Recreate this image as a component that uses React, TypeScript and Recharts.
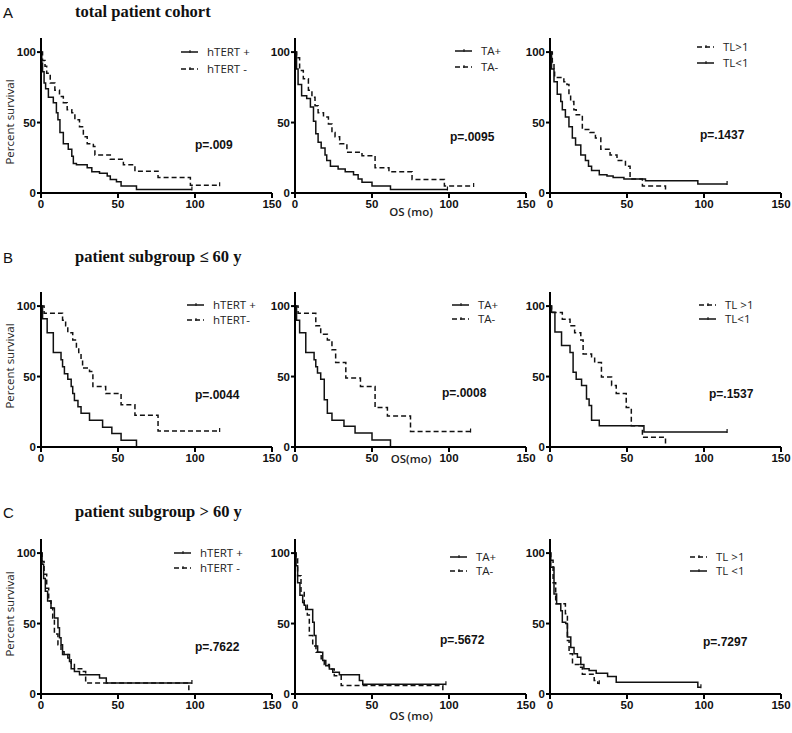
import React from 'react';
import { LineChart, Line, XAxis, YAxis } from 'recharts';

type Pt = [number, number];

// [months, percent survival] step points

// A: total patient cohort
const aHtertPos: Pt[] = [[0, 100], [0.5, 92], [1, 86], [2, 78], [3, 74], [4.8, 68], [8, 64], [10, 57], [11, 52], [12.3, 43], [14.5, 35], [17.7, 31], [20, 26], [21, 21], [23, 20], [30, 18], [33, 15], [38, 14], [43, 12], [45, 9.5], [49, 8], [52, 5], [62, 2.4], [98, 2.4]];
const aHtertNeg: Pt[] = [[0, 100], [1, 94], [2.6, 90], [3.7, 85], [6, 78], [9, 73], [12, 68.5], [14.5, 64], [17, 59], [20, 57], [22, 52], [25, 47], [27.5, 40], [30, 35], [34, 33], [35, 27], [45, 24], [53.5, 20], [61, 15.5], [76, 11], [97, 5.5], [116, 5.5]];
const aTaPos: Pt[] = [[0, 100], [1, 88], [2, 77], [4.3, 69], [7.6, 67], [10, 61], [12, 51], [13.5, 42], [15, 36], [17, 32], [19.5, 27], [20.6, 23], [23, 19], [28, 17], [32.6, 15], [38, 13], [41, 10], [43.5, 7.6], [50, 5], [62, 2.4], [99, 2.4]];
const aTaNeg: Pt[] = [[0, 100], [1, 96], [3, 87], [5.4, 81], [8.7, 73], [11, 68], [13, 62], [15, 57], [18.5, 54], [21.7, 49], [24, 43], [26, 40], [29, 35], [33.7, 29], [43.5, 26.5], [52, 18], [61, 15], [76, 9.5], [97, 5], [116, 5]];
const aTlHigh: Pt[] = [[0, 100], [1.5, 93], [2.6, 88], [3, 82], [9, 79], [11, 77], [12.3, 70], [13.4, 65], [15.5, 59], [17, 55.5], [21, 45], [26, 43], [29.5, 39], [33, 31], [39, 27], [43.5, 23], [49, 19], [52, 10], [60, 5], [75, 0]];
const aTlLow: Pt[] = [[0, 100], [1, 88], [2.6, 79], [4.7, 70], [7, 65], [8, 59], [10, 54], [12.3, 47], [14.5, 39], [16.6, 34], [20, 27], [23, 23], [25, 19], [27, 16], [32, 13], [37, 12], [41, 11], [48, 10], [62, 8.7], [96, 6.3], [115, 6.3]];

// B: patient subgroup <= 60 y
const bHtertPos: Pt[] = [[0, 100], [1, 91], [4, 81], [8, 67], [13, 62], [14, 57], [15.2, 52], [17.4, 48], [19.6, 43], [20.6, 38], [21.7, 33], [24, 28.6], [26, 24], [31.5, 19], [40, 14], [46, 9.5], [52, 4.8], [62, 0]];
const bHtertNeg: Pt[] = [[0, 100], [2, 95], [14, 90], [16, 86], [17.4, 81], [20.6, 76], [23, 71], [24.5, 67], [26, 62], [27, 56], [31.5, 53.5], [33.7, 43], [42, 38], [52, 30], [61, 22.6], [76, 11.3], [116, 11.3]];
const bTaPos: Pt[] = [[0, 100], [1, 90], [3, 81], [7, 67], [12.4, 62], [13.5, 57], [14.6, 52.6], [16.7, 48], [19, 33.6], [21, 24], [24, 19], [31.8, 14.7], [39, 10], [50, 5], [62, 0]];
const bTaNeg: Pt[] = [[0, 100], [2, 95], [13.5, 86], [16.7, 80], [21, 76], [24, 69], [26.4, 60], [33, 49], [42.5, 43], [52, 28], [60, 22], [75, 11], [114, 11]];
const bTlHigh: Pt[] = [[0, 100], [1, 95.5], [8, 90.6], [13, 86], [16, 81], [20, 76], [21.5, 66], [27, 64], [29, 60], [33.4, 49.6], [40, 43.7], [43, 38], [49.5, 28], [52.8, 15], [60, 7], [75, 0]];
const bTlLow: Pt[] = [[0, 100], [1, 95.7], [3.2, 81.6], [7.5, 72], [13, 67], [15, 53], [17, 48], [20.5, 43.7], [23.7, 34], [25.4, 29.5], [27, 19], [32, 15], [61, 10.6], [115, 10.6]];

// C: patient subgroup > 60 y
const cHtertPos: Pt[] = [[0, 100], [0.7, 92], [1.7, 82], [2.8, 73], [4.3, 66], [6.5, 61], [8.7, 54], [11, 47], [12, 40], [13, 35], [14, 28], [18.5, 23], [19.6, 18], [21.7, 16], [25, 13.7], [38, 11.3], [42.4, 7.8], [98, 7.8]];
const cHtertNeg: Pt[] = [[0, 100], [0.7, 94], [2, 85], [3.7, 75], [5, 66], [6.5, 61], [7.6, 54], [8.7, 42.5], [11, 35], [13, 30], [15, 28], [17.4, 25.5], [19.6, 21], [21.7, 18], [27, 16], [29, 7.8], [96, 0]];
const cTaPos: Pt[] = [[0, 100], [0.7, 91], [1.7, 79], [3.2, 70], [5, 65], [6, 63], [7, 60], [11.5, 51], [12.5, 41.5], [13.6, 34], [14.7, 29.6], [18, 23.7], [20, 20], [22.3, 17.8], [24.5, 15.4], [28.8, 13.7], [41.8, 9.5], [44, 7], [98, 7]];
const cTaNeg: Pt[] = [[0, 100], [0.7, 96], [1.7, 84], [3.9, 72], [6, 63], [8, 56], [9.3, 41.5], [11.5, 34], [13.6, 29.6], [17, 25], [19, 21], [22.3, 17.8], [25.5, 13], [30, 6], [96, 0]];
const cTlHigh: Pt[] = [[0, 100], [0.5, 95], [2, 79], [3.7, 64], [10, 57], [11.3, 38], [12.4, 28.6], [14.6, 21], [19, 19], [21, 14], [28.7, 9.5], [31, 7.6], [32, 7.6]];
const cTlLow: Pt[] = [[0, 100], [0.5, 90], [2.6, 71], [4.3, 64], [7, 59], [8, 51], [10.2, 50], [11.3, 40.5], [13.5, 33], [15.6, 28.6], [17.8, 26], [20, 21], [22, 18], [25.4, 16.7], [30, 14.8], [37.4, 12.4], [43, 8.3], [96, 4.8], [98, 4.8]];

const xTicks = [0, 50, 100, 150];
const yTicks = [0, 50, 100];
const rowLetters = ['A', 'B', 'C'];
const rowTitles = ['total patient cohort', 'patient subgroup \u2264 60 y', 'patient subgroup > 60 y'];
const xLabels = ['OS (mo)', 'OS(mo)', 'OS (mo)'];
const pValues = [
  ['p=.009', 'p=.0095', 'p=.1437'],
  ['p=.0044', 'p=.0008', 'p=.1537'],
  ['p=.7622', 'p=.5672', 'p=.7297'],
];

type Series = { data: Pt[]; dashed: boolean; name: string };

const panelSeries: Series[][][] = [
  [
    [{ data: aHtertPos, dashed: false, name: 'hTERT +' }, { data: aHtertNeg, dashed: true, name: 'hTERT -' }],
    [{ data: aTaPos, dashed: false, name: 'TA+' }, { data: aTaNeg, dashed: true, name: 'TA-' }],
    [{ data: aTlHigh, dashed: true, name: 'TL>1' }, { data: aTlLow, dashed: false, name: 'TL<1' }],
  ],
  [
    [{ data: bHtertPos, dashed: false, name: 'hTERT +' }, { data: bHtertNeg, dashed: true, name: 'hTERT-' }],
    [{ data: bTaPos, dashed: false, name: 'TA+' }, { data: bTaNeg, dashed: true, name: 'TA-' }],
    [{ data: bTlHigh, dashed: true, name: 'TL >1' }, { data: bTlLow, dashed: false, name: 'TL<1' }],
  ],
  [
    [{ data: cHtertPos, dashed: false, name: 'hTERT +' }, { data: cHtertNeg, dashed: true, name: 'hTERT -' }],
    [{ data: cTaPos, dashed: false, name: 'TA+' }, { data: cTaNeg, dashed: true, name: 'TA-' }],
    [{ data: cTlHigh, dashed: true, name: 'TL >1' }, { data: cTlLow, dashed: false, name: 'TL <1' }],
  ],
];

// layout (page pixels)
const axisX = [41, 295, 550];
const axisY = [193, 447, 694];
const legendLayout = [
  [{ x: 181, y: [52, 69] }, { x: 455, y: [51, 67] }, { x: 697, y: [47, 63] }],
  [{ x: 187, y: [305, 320] }, { x: 452, y: [305, 319] }, { x: 699, y: [305, 319] }],
  [{ x: 174, y: [553, 568] }, { x: 450, y: [557, 571] }, { x: 690, y: [557, 571] }],
];
const pLayout = [
  [{ x: 195, y: 145 }, { x: 450, y: 137 }, { x: 700, y: 135 }],
  [{ x: 195, y: 395 }, { x: 442, y: 393 }, { x: 709, y: 394 }],
  [{ x: 195, y: 647 }, { x: 440, y: 640 }, { x: 703, y: 642 }],
];
const titleY = [12, 257, 512];
const ylabelY = [122, 366, 614];
const xlabelY = [212, 459, 716];

const PLOT_W = 231;
const PLOT_H = 155;
const Y_W = 40;
const TOP = 5;

const sans = '"Liberation Sans", Arial, sans-serif';
const light = '"Open Sans", sans-serif';

function Txt(props: { x: number; y: number; children: React.ReactNode; style?: React.CSSProperties; center?: boolean }) {
  return (
    <div
      style={{
        position: 'absolute',
        left: props.x,
        top: props.y,
        transform: props.center ? 'translate(-50%, -50%)' : 'translateY(-50%)',
        whiteSpace: 'nowrap',
        lineHeight: 1,
        ...props.style,
      }}
    >
      {props.children}
    </div>
  );
}

// small vertical censor tick where a curve stops above zero
const endTick = (last: number) => (props: any) => {
  const { cx, cy, index, payload } = props;
  if (index !== last || !payload || payload.v <= 0) return <g key={`d${index}`} />;
  return <line key={`d${index}`} x1={cx} y1={cy - 3} x2={cx} y2={cy + 1} stroke="#111" strokeWidth={1.2} />;
};

function Panel({ row, col }: { row: number; col: number }) {
  const series = panelSeries[row][col];
  return (
    <div style={{ position: 'absolute', left: axisX[col] - Y_W, top: axisY[row] - PLOT_H - TOP }}>
      <LineChart width={Y_W + PLOT_W + 10} height={TOP + PLOT_H + 40} margin={{ top: TOP, right: 10, bottom: 0, left: 0 }}>
        <XAxis
          type="number"
          dataKey="t"
          domain={[0, 150]}
          ticks={xTicks}
          height={40}
          stroke="#000"
          strokeWidth={2}
          tickSize={5}
          tickMargin={2}
          tick={{ fill: '#111', fontSize: 11.5, fontWeight: 'bold', fontFamily: sans }}
          allowDataOverflow
        />
        <YAxis
          type="number"
          domain={[0, 110]}
          ticks={yTicks}
          width={Y_W}
          stroke="#000"
          strokeWidth={2}
          tickSize={4}
          tickMargin={1}
          tick={{ fill: '#111', fontSize: 11.5, fontWeight: 'bold', fontFamily: sans }}
        />
        {series.map((s) => (
          <Line
            key={s.name}
            data={s.data.map(([t, v]) => ({ t, v }))}
            dataKey="v"
            type="stepAfter"
            stroke="#111"
            strokeWidth={1.5}
            strokeDasharray={s.dashed ? '5 3' : undefined}
            dot={endTick(s.data.length - 1)}
            activeDot={false}
            isAnimationActive={false}
          />
        ))}
      </LineChart>
    </div>
  );
}

function LegendBox({ row, col }: { row: number; col: number }) {
  const series = panelSeries[row][col];
  const lay = legendLayout[row][col];
  return (
    <>
      {series.map((s, i) => (
        <React.Fragment key={s.name}>
          <svg style={{ position: 'absolute', left: lay.x, top: lay.y[i] - 3 }} width={18} height={6}>
            <line x1={0} y1={3} x2={17} y2={3} stroke="#111" strokeWidth={1.5} strokeDasharray={s.dashed ? '5 3' : undefined} />
            <line x1={9} y1={1} x2={9} y2={4} stroke="#111" strokeWidth={1} />
          </svg>
          <Txt x={lay.x + 26} y={lay.y[i]} style={{ fontFamily: light, fontSize: 11.5, color: '#222' }}>
            {s.name}
          </Txt>
        </React.Fragment>
      ))}
    </>
  );
}

export default function App() {
  return (
    <div style={{ position: 'absolute', left: 0, top: 0, width: 792, height: 733, background: '#fff', overflow: 'hidden' }}>
      {[0, 1, 2].map((row) => (
        <React.Fragment key={row}>
          <Txt x={3} y={titleY[row]} style={{ fontFamily: sans, fontSize: 15, color: '#111' }}>
            {rowLetters[row]}
          </Txt>
          <Txt x={75} y={titleY[row]} style={{ fontFamily: '"Liberation Serif", serif', fontSize: 16.5, fontWeight: 'bold', color: '#111' }}>
            {rowTitles[row]}
          </Txt>
          <Txt
            x={10}
            y={ylabelY[row]}
            center
            style={{ fontFamily: light, fontSize: 11.5, color: '#222', transform: 'translate(-50%, -50%) rotate(-90deg)' }}
          >
            Percent survival
          </Txt>
          <Txt x={411} y={xlabelY[row]} center style={{ fontFamily: light, fontSize: 11.5, fontWeight: 600, color: '#222' }}>
            {xLabels[row]}
          </Txt>
          {[0, 1, 2].map((col) => (
            <React.Fragment key={col}>
              <Panel row={row} col={col} />
              <LegendBox row={row} col={col} />
              <Txt x={pLayout[row][col].x} y={pLayout[row][col].y} style={{ fontFamily: sans, fontSize: 12, fontWeight: 'bold', color: '#111' }}>
                {pValues[row][col]}
              </Txt>
            </React.Fragment>
          ))}
        </React.Fragment>
      ))}
    </div>
  );
}
